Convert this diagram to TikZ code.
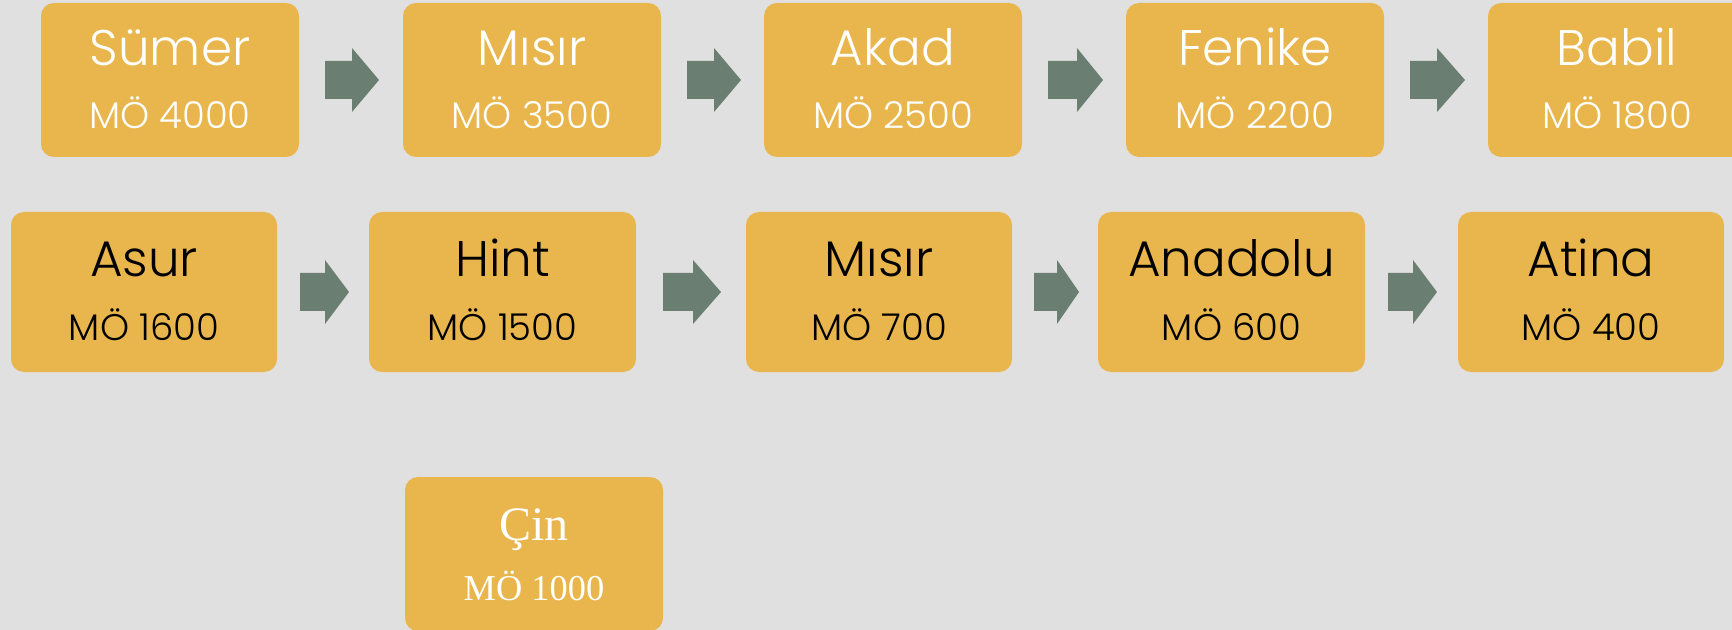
\documentclass[tikz,border=0pt]{standalone}
\usepackage{fontspec}
\setmainfont{Poppins Light}
\newfontfamily\serifcin{Liberation Serif}
\definecolor{bgc}{RGB}{224,224,224}
\definecolor{boxc}{RGB}{232,182,76}
\definecolor{arrc}{RGB}{107,126,114}
\tikzset{
  era/.style={fill=boxc, rounded corners=6.5pt, inner sep=0pt},
  ttl/.style={anchor=base, inner sep=0pt, font=\fontsize{25}{30}\selectfont},
  sub/.style={anchor=base, inner sep=0pt, font=\fontsize{18.5}{22}\selectfont},
  sttl/.style={anchor=base, inner sep=0pt, font=\serifcin\fontsize{24}{28}\selectfont},
  ssub/.style={anchor=base, inner sep=0pt, font=\serifcin\fontsize{18.2}{22}\selectfont},
}
% block arrow: #1 tail x, #2 shaft end x, #3 tip x, #4 centre y, #5 name
\newcommand\blockarrow[5]{%
  \coordinate (#5) at (#1,#4);
  \fill[arrc] (#1,#4-19) -- (#2,#4-19) -- (#2,#4-32) -- (#3,#4) -- (#2,#4+32) -- (#2,#4+19) -- (#1,#4+19) -- cycle;}
% era box: #1 name, #2 x1, #3 y1, #4 x2, #5 y2
\newcommand\erabox[5]{%
  \path[era] (#2,#3) rectangle (#4,#5);
  \coordinate (#1) at ({(#2+#4)/2},#3);}
\begin{document}
\begin{tikzpicture}[x=0.5pt,y=-0.5pt]
\useasboundingbox (0,0) rectangle (1732,630);
\clip (0,0) rectangle (1732,630);
\fill[bgc] (0,0) rectangle (1732,630);
% row 1
\erabox{sumer}{41}{3}{299}{157}
\erabox{misir}{403}{3}{661}{157}
\erabox{akad}{764}{3}{1022}{157}
\erabox{fenike}{1126}{3}{1384}{157}
\erabox{babil}{1488}{3}{1746}{157}
\foreach \n/\t/\d in {sumer/Sümer/MÖ 4000, misir/Mısır/MÖ 3500, akad/Akad/MÖ 2500, fenike/Fenike/MÖ 2200, babil/Babil/MÖ 1800}{
  \node[ttl, text=white] (\n-t) at ([yshift=-31.5pt]\n) {\t};
  \node[sub, text=white] (\n-d) at ([yshift=-63pt]\n) {\d};
}
\blockarrow{325}{352}{379}{80}{a1}
\blockarrow{687}{714}{741}{80}{a2}
\blockarrow{1048}{1077}{1103}{80}{a3}
\blockarrow{1410}{1437}{1465}{80}{a4}
% row 2
\erabox{asur}{11}{212}{277}{372}
\erabox{hint}{369}{212}{636}{372}
\erabox{misirb}{746}{212}{1012}{372}
\erabox{anadolu}{1098}{212}{1365}{372}
\erabox{atina}{1458}{212}{1724}{372}
\foreach \n/\t/\d in {asur/Asur/MÖ 1600, hint/Hint/MÖ 1500, misirb/Mısır/MÖ 700, anadolu/Anadolu/MÖ 600, atina/Atina/MÖ 400}{
  \node[ttl, text=black] (\n-t) at ([yshift=-32.5pt]\n) {\t};
  \node[sub, text=black] (\n-d) at ([yshift=-64pt]\n) {\d};
}
\blockarrow{300}{325}{349}{292}{b1}
\blockarrow{663}{693}{721}{292}{b2}
\blockarrow{1034}{1057}{1079}{292}{b3}
\blockarrow{1388}{1413}{1437}{292}{b4}
% row 3
\erabox{cin}{405}{477}{663}{631}
\node[sttl, text=white] (cin-t) at ([yshift=-31.5pt]cin) {Çin};
\node[ssub, text=white] (cin-d) at ([yshift=-61.5pt]cin) {MÖ 1000};
\end{tikzpicture}
\end{document}
